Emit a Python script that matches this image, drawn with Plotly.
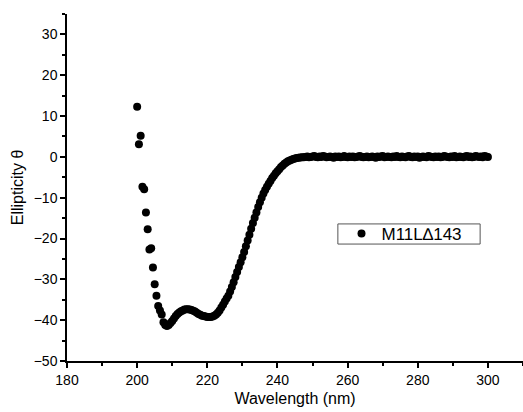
import plotly.graph_objects as go

# CD spectrum, wavelength step 0.5 nm from 200 to 300 nm
wl_start = 200.0
wl_step = 0.5

ellip_dip = [
    12.3, 3.1, 5.2, -7.3, -7.9, -13.6, -17.7, -22.7, -22.4, -27.1,
    -31.2, -34.0, -36.5, -37.6, -38.6, -40.5, -41.2, -41.4, -41.2, -40.7,
    -40.2, -39.6, -39.0, -38.5, -38.1, -37.8, -37.6, -37.4, -37.3, -37.3,
    -37.4, -37.5, -37.7, -37.9, -38.2, -38.5, -38.7, -38.9, -39.0, -39.1,
    -39.2, -39.2, -39.2, -39.1,
]
ellip_rise = [
    -38.9, -38.6, -38.2, -37.6, -36.9, -36.2, -35.4, -34.7, -34.0, -33.0,
    -31.9, -30.7, -29.4, -28.2, -27.0, -25.8, -24.6, -23.3, -21.9, -20.5,
    -19.1, -17.6, -16.2, -14.9, -13.6, -12.3, -11.1, -10.0, -9.0, -8.1,
    -7.3, -6.6, -5.9, -5.2, -4.6, -4.0, -3.5, -3.0, -2.5, -2.1,
    -1.7, -1.4, -1.1, -0.9, -0.7, -0.5, -0.4, -0.3, -0.2, -0.15,
    -0.1,
]
ellip_plateau = [
    -0.1, 0.0, 0.1, -0.1, 0.0, 0.1, 0.2, 0.0, -0.1, 0.1,
    0.0, 0.2, 0.1, -0.1, 0.0, 0.1, 0.0, -0.2, 0.1, 0.0,
    0.1, -0.1, 0.0, 0.2, 0.0, -0.1, 0.1, 0.0, 0.1, -0.1,
    0.0, 0.1, 0.2, 0.0, -0.1, 0.0, 0.1, -0.1, 0.0, 0.1,
    0.0, -0.2, 0.1, 0.0, 0.1, 0.2, -0.1, 0.0, 0.1, 0.0,
    -0.1, 0.1, 0.0, 0.2, 0.0, -0.1, 0.1, 0.0, -0.1, 0.1,
    0.2, 0.0, -0.1, 0.1, 0.0, 0.1, -0.2, 0.0, 0.1, 0.0,
    -0.1, 0.2, 0.1, 0.0, -0.1, 0.1, 0.0, 0.1, -0.1, 0.0,
    0.2, 0.1, 0.0, -0.1, 0.1, 0.0, 0.2, -0.1, 0.0, 0.1,
    0.0, -0.1, 0.1, 0.2, 0.0, 0.1, -0.1, 0.0, 0.2, 0.1,
    0.0, 0.1, -0.1, 0.2, 0.1, 0.0,
]
ellipticity = ellip_dip + ellip_rise + ellip_plateau
wavelength = [wl_start + wl_step * i for i in range(len(ellipticity))]

series_name = "M11L\u2206143"
x_ticks = [180, 200, 220, 240, 260, 280, 300]
y_ticks = [-50, -40, -30, -20, -10, 0, 10, 20, 30]

FONT = "Arial, 'Liberation Sans', sans-serif"

fig = go.Figure()
fig.add_trace(go.Scatter(
    x=wavelength, y=ellipticity, mode="markers", name=series_name,
    marker=dict(color="black", size=8, line=dict(width=0)),
))

axis_common = dict(
    showgrid=False, zeroline=False, showline=True, linecolor="black", linewidth=1.5,
    ticks="outside", ticklen=5, tickwidth=1.5, tickcolor="black",
    tickfont=dict(family=FONT, size=14, color="black"),
    automargin=False,
)
fig.update_xaxes(
    range=[180, 310], tickvals=x_ticks,
    minor=dict(dtick=10, tick0=180, ticks="outside", ticklen=3, tickwidth=1.5, tickcolor="black"),
    title=dict(text="Wavelength (nm)", font=dict(family=FONT, size=16, color="black"), standoff=6),
    **axis_common,
)
fig.update_yaxes(
    range=[-50, 35], tickvals=y_ticks,
    minor=dict(dtick=5, tick0=-50, ticks="outside", ticklen=3, tickwidth=1.5, tickcolor="black"),
    title=dict(text="Ellipticity \u03b8", font=dict(family=FONT, size=16, color="black"), standoff=6),
    **axis_common,
)
# legend frame (reference draws a thin rectangular frame around the legend entry)
fig.add_shape(
    type="rect", xref="paper", yref="paper",
    x0=0.594, x1=0.906, y0=0.337, y1=0.395,
    line=dict(color="#555555", width=1), fillcolor="rgba(0,0,0,0)", layer="above",
)
fig.update_layout(
    width=523, height=412,
    margin=dict(l=67, r=0, t=14, b=51, autoexpand=False),
    paper_bgcolor="white", plot_bgcolor="white",
    showlegend=True,
    legend=dict(
        x=0.602, y=0.366, xanchor="left", yanchor="middle",
        bgcolor="rgba(0,0,0,0)", borderwidth=0,
        font=dict(family=FONT, size=17, color="black"),
        itemwidth=30,
    ),
)
fig.write_html(
    "out.html",
    config={"displayModeBar": False},
    post_script="document.body.style.margin='0';document.body.style.overflow='hidden';",
)
